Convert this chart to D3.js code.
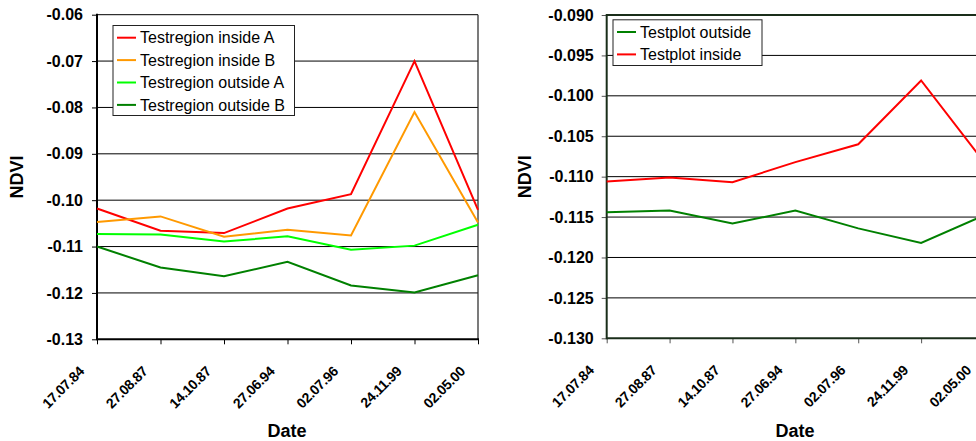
<!DOCTYPE html>
<html>
<head>
<meta charset="utf-8">
<script src="https://cdn.jsdelivr.net/npm/d3@7/dist/d3.min.js"></script>
<style>
  html, body { margin: 0; padding: 0; background: #fff; overflow: hidden; }
  svg { display: block; font-family: "Liberation Sans", Arial, sans-serif; }
</style>
</head>
<body>
<svg id="chart" width="976" height="441"></svg>
<script>
// Acquisition dates (shared by both panels)
const dates = ["17.07.84", "27.08.87", "14.10.87", "27.06.94", "02.07.96", "24.11.99", "02.05.00"];

// Left panel: NDVI of the test regions
const regionInsideA  = [-0.1018, -0.1066, -0.1071, -0.1018, -0.0987, -0.0700, -0.1021];
const regionInsideB  = [-0.1047, -0.1035, -0.1079, -0.1064, -0.1076, -0.0810, -0.1048];
const regionOutsideA = [-0.1073, -0.1074, -0.1089, -0.1078, -0.1107, -0.1098, -0.1053];
const regionOutsideB = [-0.1100, -0.1145, -0.1164, -0.1133, -0.1184, -0.1199, -0.1162];
const leftTicks = [-0.13, -0.12, -0.11, -0.10, -0.09, -0.08, -0.07, -0.06];

// Right panel: NDVI of the test plots
const plotOutside = [-0.1144, -0.1142, -0.1158, -0.1142, -0.1164, -0.1182, -0.1148];
const plotInside  = [-0.1106, -0.1101, -0.1107, -0.1082, -0.1060, -0.0981, -0.1082];
const rightTicks = [-0.130, -0.125, -0.120, -0.115, -0.110, -0.105, -0.100, -0.095, -0.090];

const svg = d3.select("#chart");

function panel(cfg) {
  const g = svg.append("g");
  const x = d3.scalePoint().domain(dates).range([cfg.x0, cfg.x1]);
  const y = d3.scaleLinear().domain([cfg.ticks[0], cfg.ticks[cfg.ticks.length - 1]]).range([cfg.y1, cfg.y0]);
  const top = cfg.ticks[cfg.ticks.length - 1];

  // horizontal gridlines (the top one doubles as the frame edge)
  g.append("g").selectAll("line").data(cfg.ticks.slice(1)).join("line")
    .attr("x1", cfg.x0).attr("x2", cfg.x1)
    .attr("y1", d => y(d)).attr("y2", d => y(d))
    .attr("stroke", d => d === top ? cfg.axisColor : "#000")
    .attr("stroke-width", d => d === top ? cfg.frameTop : 1);

  // right frame edge
  g.append("line").attr("x1", cfg.x1).attr("x2", cfg.x1)
    .attr("y1", cfg.y0).attr("y2", cfg.y1)
    .attr("stroke", "#222").attr("stroke-width", 1.2);

  // y axis
  const fmt = d3.format(cfg.fmt);
  const yAxis = d3.axisLeft(y).tickValues(cfg.ticks).tickSize(5).tickPadding(cfg.yPad)
    .tickFormat(d => fmt(d).replace("\u2212", "-"));
  const ya = g.append("g").attr("transform", `translate(${cfg.x0},0)`).call(yAxis);
  ya.select(".domain").remove();
  ya.selectAll(".tick line").attr("stroke", cfg.tickColor);
  ya.selectAll(".tick text")
    .attr("font-family", "Liberation Sans, Arial, sans-serif")
    .attr("font-size", 16).attr("font-weight", "bold").attr("fill", "#000");

  // x axis with slanted date labels
  const xAxis = d3.axisBottom(x).tickSize(5).tickFormat(d => d);
  const xa = g.append("g").attr("transform", `translate(0,${cfg.y1})`).call(xAxis);
  xa.select(".domain").remove();
  xa.selectAll(".tick line").attr("stroke", cfg.tickColor);
  xa.selectAll(".tick text")
    .attr("font-family", "Liberation Sans, Arial, sans-serif")
    .attr("font-size", 14).attr("font-weight", "bold").attr("fill", "#000")
    .attr("letter-spacing", "-0.3")
    .attr("text-anchor", "end").attr("dy", null).attr("y", null)
    .attr("transform", "translate(-12.5,33) rotate(-45)");

  // axis lines
  g.append("line").attr("x1", cfg.x0).attr("x2", cfg.x0)
    .attr("y1", cfg.y0 - 1).attr("y2", cfg.y1 + 1)
    .attr("stroke", cfg.axisColor).attr("stroke-width", 2);
  g.append("line").attr("x1", cfg.x0).attr("x2", cfg.x1 + 1)
    .attr("y1", cfg.y1).attr("y2", cfg.y1)
    .attr("stroke", cfg.axisColor).attr("stroke-width", 2);

  // series lines
  const line = d3.line().x((d, i) => x(dates[i])).y(d => y(d));
  cfg.series.forEach(s => {
    g.append("path").datum(s.values).attr("d", line)
      .attr("fill", "none").attr("stroke", s.color).attr("stroke-width", 2)
      .attr("stroke-linejoin", "miter");
  });

  // axis titles
  g.append("text").attr("transform", `translate(${cfg.ndviX},${(cfg.y0 + cfg.y1) / 2}) rotate(-90)`)
    .attr("text-anchor", "middle").attr("dy", "0.35em")
    .attr("font-size", 18).attr("font-weight", "bold").text("NDVI");
  g.append("text").attr("x", cfg.dateX).attr("y", 437)
    .attr("text-anchor", "middle")
    .attr("font-size", 18).attr("font-weight", "bold").text("Date");

  // legend
  const lg = g.append("g");
  lg.append("rect").attr("x", cfg.legend.x + 0.5).attr("y", cfg.legend.y + 0.5)
    .attr("width", cfg.legend.w).attr("height", cfg.legend.h)
    .attr("fill", "#fff").attr("stroke", "#222").attr("stroke-width", 1);
  cfg.series.forEach((s, i) => {
    const cy = cfg.legend.y + 12.7 + i * 22.4;
    lg.append("line").attr("x1", cfg.legend.x + 4.5).attr("x2", cfg.legend.x + 23.5)
      .attr("y1", cy).attr("y2", cy).attr("stroke", s.color).attr("stroke-width", 2);
    lg.append("text").attr("x", cfg.legend.x + 27.5).attr("y", cy).attr("dy", "0.35em")
      .attr("font-size", 16).attr("fill", "#000").text(s.name);
  });
}

panel({
  x0: 97, x1: 478, y0: 14.7, y1: 339.3,
  ticks: leftTicks, fmt: ".2f", yPad: 9,
  axisColor: "#000", tickColor: "#000", frameTop: 1,
  ndviX: 17, dateX: 287,
  legend: { x: 112.5, y: 25, w: 181.5, h: 90 },
  series: [
    { name: "Testregion inside A", values: regionInsideA, color: "#ff0000" },
    { name: "Testregion inside B", values: regionInsideB, color: "#ff9900" },
    { name: "Testregion outside A", values: regionOutsideA, color: "#00ff00" },
    { name: "Testregion outside B", values: regionOutsideB, color: "#008000" }
  ]
});

panel({
  x0: 606.7, x1: 984, y0: 15, y1: 338.3,
  ticks: rightTicks, fmt: ".3f", yPad: 8,
  axisColor: "#1a2e1a", tickColor: "#555", frameTop: 2,
  ndviX: 525, dateX: 795,
  legend: { x: 612.5, y: 19.3, w: 149, h: 45.7 },
  series: [
    { name: "Testplot outside", values: plotOutside, color: "#008000" },
    { name: "Testplot inside", values: plotInside, color: "#ff0000" }
  ]
});
</script>
</body>
</html>
